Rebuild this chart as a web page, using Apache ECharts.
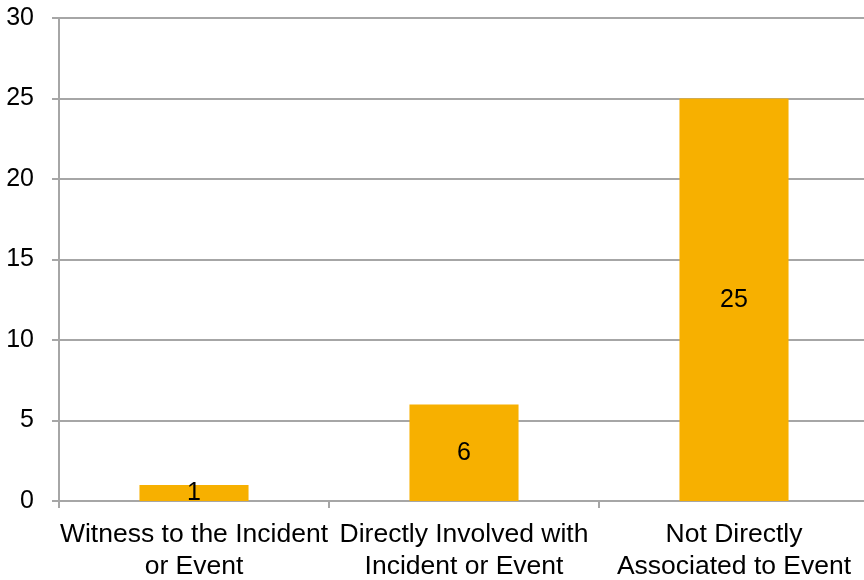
<!DOCTYPE html>
<html>
<head>
<meta charset="utf-8">
<script src="https://cdn.jsdelivr.net/npm/echarts@6/dist/echarts.min.js"></script>
<style>html,body{margin:0;padding:0;background:#fff;overflow:hidden;}#c{width:864px;height:580px;}</style>
</head>
<body>
<div id="c"></div>
<script>
const categories = ['Witness to the Incident\nor Event', 'Directly Involved with\nIncident or Event', 'Not Directly\nAssociated to Event'];
const values = [1, 6, 25];
const yTicks = [0, 5, 10, 15, 20, 25, 30];

const chart = echarts.init(document.getElementById('c'), null, {renderer: 'canvas'});
const font = '"Liberation Sans", Arial, sans-serif';
const gray = '#a6a6a6';
chart.setOption({
  animation: false,
  backgroundColor: '#ffffff',
  grid: {left: 59, top: 18, width: 810, height: 483, containLabel: false, outerBoundsMode: 'none'},
  xAxis: {
    type: 'category',
    data: categories,
    axisLine: {show: true, lineStyle: {color: gray, width: 2}},
    axisTick: {show: true, length: 7, lineStyle: {color: gray, width: 2}},
    axisLabel: {color: '#000', fontFamily: font, fontSize: 26.5, lineHeight: 32, margin: 18, interval: 0}
  },
  yAxis: {
    type: 'value',
    min: yTicks[0], max: yTicks[yTicks.length - 1], interval: 5,
    axisLine: {show: true, lineStyle: {color: gray, width: 2}},
    axisTick: {show: true, length: 7, lineStyle: {color: gray, width: 2}},
    splitLine: {show: true, lineStyle: {color: gray, width: 2}},
    axisLabel: {color: '#000', fontFamily: font, fontSize: 25, margin: 25}
  },
  series: [{
    type: 'bar',
    data: values,
    barWidth: '40.4%',
    itemStyle: {color: '#F7B000'},
    label: {show: true, position: 'inside', color: '#000', fontFamily: font, fontSize: 25}
  }]
});
</script>
</body>
</html>
